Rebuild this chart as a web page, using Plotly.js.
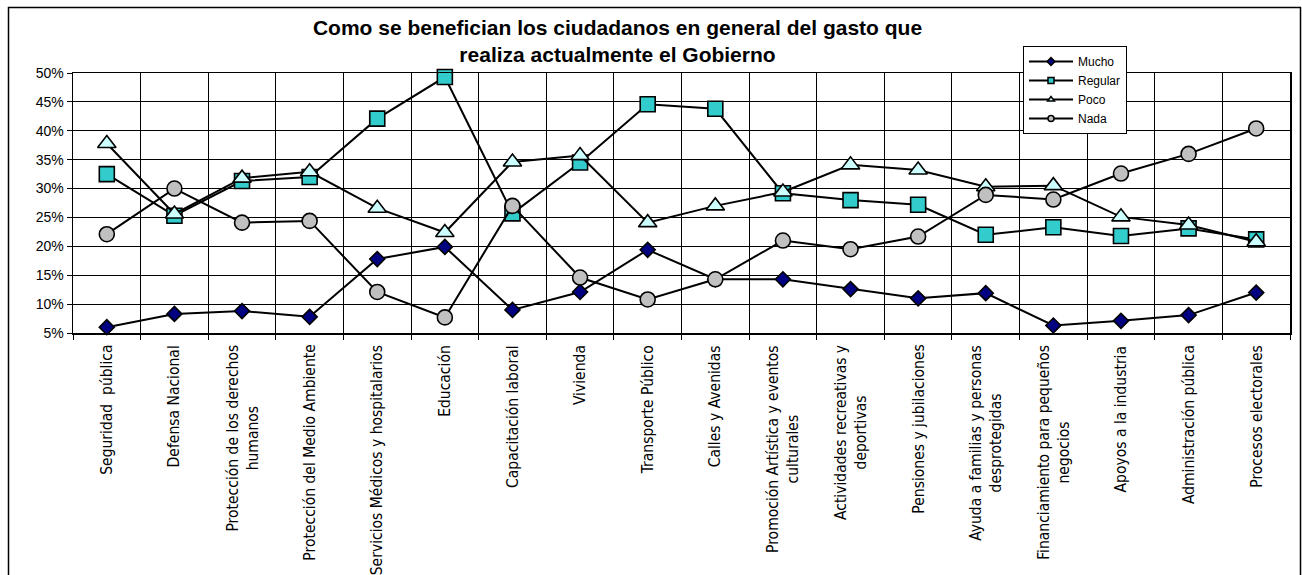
<!DOCTYPE html>
<html>
<head>
<meta charset="utf-8">
<script src="https://cdn.plot.ly/plotly-3.0.1.min.js"></script>
<style>
  html, body { margin: 0; padding: 0; background: #fff; }
  #chart { width: 1302px; height: 575px; }
</style>
</head>
<body>
<div id="chart"></div>
<script>
const categories = [
  "Seguridad pública", "Defensa Nacional", "Protección de los derechos humanos",
  "Protección del Medio Ambiente", "Servicios Médicos y hospitalarios", "Educación",
  "Capacitación laboral", "Vivienda", "Transporte Público", "Calles y Avenidas",
  "Promoción Artística y eventos culturales", "Actividades recreativas y deportivas",
  "Pensiones y jubilaciones", "Ayuda a familias y personas desprotegidas",
  "Financiamiento para pequeños negocios", "Apoyos a la industria",
  "Administración pública", "Procesos electorales"
];
const tickLabels = [
  "Seguridad  pública", "Defensa Nacional", "Protección de los derechos<br>humanos",
  "Protección del Medio Ambiente", "Servicios Médicos y hospitalarios", "Educación",
  "Capacitación laboral", "Vivienda", "Transporte Público", "Calles y Avenidas",
  "Promoción Artística y eventos<br>culturales", "Actividades recreativas y<br>deportivas",
  "Pensiones y jubilaciones", "Ayuda a familias y personas<br>desprotegidas",
  "Financiamiento para pequeños<br>negocios", "Apoyos a la industria",
  "Administración pública", "Procesos electorales"
];
const seriesNames = ["Mucho", "Regular", "Poco", "Nada"];
const mucho   = [6.0, 8.3, 8.8, 7.8, 17.8, 19.9, 9.0, 12.1, 19.4, 14.3, 14.3, 12.6, 11.0, 11.9, 6.3, 7.1, 8.1, 12.0];
const regular = [32.5, 25.3, 31.3, 32.0, 42.1, 49.3, 25.7, 34.5, 44.6, 43.8, 29.2, 28.0, 27.2, 22.0, 23.3, 21.8, 23.1, 21.2];
const poco    = [37.8, 25.6, 31.8, 32.9, 26.6, 22.4, 34.6, 35.7, 24.1, 27.0, 29.4, 34.1, 33.2, 30.3, 30.5, 25.1, 23.7, 20.8];
const nada    = [22.1, 30.0, 24.1, 24.4, 12.1, 7.7, 27.0, 14.6, 10.8, 14.3, 21.0, 19.5, 21.7, 28.9, 28.1, 32.6, 36.0, 40.4];

const values = [mucho, regular, poco, nada];
const symbols = ["diamond", "square", "triangle-up", "circle"];
const fills = ["#000080", "#33CCCC", "#CCFFFF", "#C0C0C0"];
const sizes = [11.5, 15, 16, 15];
const legendSizes = [6, 6, 6, 6];

const traces = [];
values.forEach((v, i) => {
  traces.push({
    type: "scatter", mode: "lines+markers", name: seriesNames[i],
    x: categories, y: v, showlegend: false, cliponaxis: false,
    line: { color: "#000", width: 2 },
    marker: { symbol: symbols[i], size: sizes[i], color: fills[i], line: { color: "#000", width: 1.6 } }
  });
});
values.forEach((v, i) => {
  traces.push({
    type: "scatter", mode: "lines+markers", name: seriesNames[i],
    x: [null], y: [null], showlegend: true, legendgroup: "g" + i,
    line: { color: "#000", width: 2 },
    marker: { symbol: symbols[i], size: legendSizes[i], color: fills[i], line: { color: "#000", width: 1.5 } }
  });
});

const L = 73, R = 12, T = 73, B = 242, W = 1302, H = 575;
const pw = W - L - R, ph = H - T - B;

const annotations = tickLabels.map((t, i) => ({
  text: t, x: categories[i], xref: "x", y: -11 / ph, yref: "paper",
  xanchor: "center", yanchor: "top", textangle: -90, align: "center",
  showarrow: false, borderpad: 0,
  font: { family: "DejaVu Sans Condensed, DejaVu Sans", size: 15.5, color: "#000" }
}));

const layout = {
  width: W, height: H,
  margin: { l: L, r: R, t: T, b: B, pad: 0 },
  paper_bgcolor: "#fff", plot_bgcolor: "#fff",
  title: {
    text: "Como se benefician los ciudadanos en general del gasto que<br>realiza actualmente el Gobierno",
    font: { family: "Liberation Sans, Arial", size: 21, color: "#000", weight: "bold" },
    xref: "paper", x: (617.5 - L) / pw, xanchor: "center",
    yref: "container", y: 1 - 35 / H, yanchor: "top"
  },
  showlegend: true,
  legend: {
    x: (1023 - L) / pw, xanchor: "left", y: (ph + T - 46) / ph, yanchor: "top",
    bgcolor: "#fff", bordercolor: "#000", borderwidth: 1,
    font: { family: "Liberation Sans, Arial", size: 12, color: "#000" },
    itemwidth: 44, tracegroupgap: 2.5, traceorder: "normal"
  },
  xaxis: {
    type: "category", range: [-0.5, 17.5],
    showticklabels: false, tickson: "boundaries",
    ticks: "outside", ticklen: 5, tickcolor: "#000", tickwidth: 1,
    showgrid: true, gridcolor: "#000", gridwidth: 1,
    showline: true, linecolor: "#000", linewidth: 1.5, mirror: true,
    zeroline: false, fixedrange: true
  },
  yaxis: {
    range: [5, 50], dtick: 5, tick0: 5, ticksuffix: "%",
    ticks: "outside", ticklen: 5, tickcolor: "#000", tickwidth: 1,
    showgrid: true, gridcolor: "#000", gridwidth: 1,
    showline: true, linecolor: "#000", linewidth: 1.5, mirror: true,
    zeroline: false, fixedrange: true,
    tickfont: { family: "Liberation Sans, Arial", size: 14, color: "#000" }
  },
  annotations: annotations,
  shapes: [{
    type: "rect", xref: "paper", yref: "paper",
    x0: (8.5 - L) / pw, x1: (1300.5 - L) / pw,
    y0: -(H - T - ph + 20) / ph, y1: (ph + T - 7.5) / ph,
    line: { color: "#000", width: 1.5 }, fillcolor: "rgba(0,0,0,0)"
  }]
};

Plotly.newPlot("chart", traces, layout, { displayModeBar: false, staticPlot: true });
</script>
</body>
</html>
